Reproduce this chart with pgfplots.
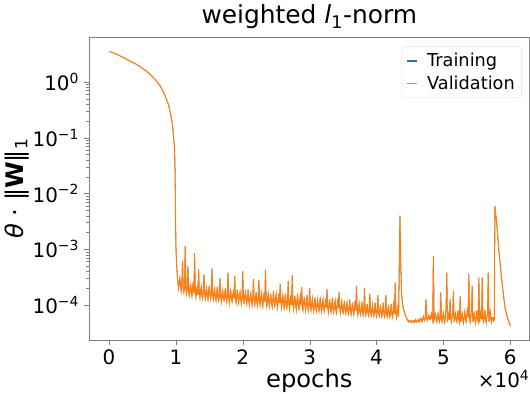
\documentclass[border=0pt]{standalone}
\usepackage{fontspec}
\setmainfont{DejaVu Sans}
\usepackage{pgfplots}
\usepackage{pgfplotstable}
\pgfplotsset{compat=1.18}
\definecolor{mplblue}{HTML}{1F77B4}
\definecolor{mplorange}{HTML}{FF7F0E}
\pgfplotstableread{
x y
0 3.53
1000 3.2
2000 2.8
2860 2.46
4000 2.1
5000 1.75
5880 1.47
6800 1.15
7650 0.85
8300 0.6
8900 0.39
9200 0.27
9500 0.171
9700 0.09
9800 0.065
9880 0.025
9910 0.013
9950 0.004
10000 1.25e-3
10050 8e-4
10100 6e-4
10150 4.5e-4
10200 3.6e-4
10300 2.6e-4
10400 2.0e-4
10500 2.5e-4
10600 3.0e-4
10700 2.2e-4
10800 1.8e-4
10900 2.6e-4
11000 6.2e-4
11100 2.0e-4
11200 1.7e-4
11300 2.1e-4
11400 11.5e-4
11500 2.0e-4
11600 1.6e-4
11700 2.0e-4
11800 5.0e-4
11900 1.8e-4
12000 1.5e-4
12100 1.9e-4
12200 2.4e-4
12300 1.7e-4
12400 1.45e-4
12500 2.0e-4
12600 2.6e-4
12700 1.6e-4
12800 8.5e-4
12900 1.9e-4
13000 1.4e-4
13100 1.75e-4
13200 2.2e-4
13300 1.5e-4
13400 4.4e-4
13500 1.7e-4
13600 1.35e-4
13700 1.8e-4
13800 2.1e-4
13900 1.5e-4
14000 1.3e-4
14100 1.8e-4
14200 3.5e-4
14300 1.55e-4
14400 1.3e-4
14500 1.7e-4
14600 2.0e-4
14700 1.45e-4
14800 1.25e-4
14900 1.75e-4
15000 2.2e-4
15100 1.5e-4
15200 1.3e-4
15300 1.7e-4
15400 4.5e-4
15500 1.5e-4
15600 1.25e-4
15700 1.65e-4
15800 1.9e-4
15900 1.4e-4
16000 1.2e-4
16100 1.6e-4
16200 2.1e-4
16300 1.35e-4
16400 1.2e-4
16500 1.55e-4
16600 3.0e-4
16700 1.4e-4
16800 1.15e-4
16900 1.5e-4
17000 1.8e-4
17100 1.3e-4
17200 1.2e-4
17300 1.55e-4
17400 2.0e-4
17500 1.35e-4
17600 1.15e-4
17700 1.5e-4
17800 3.8e-4
17900 1.35e-4
18000 1.1e-4
18100 1.5e-4
18200 1.8e-4
18300 1.3e-4
18400 1.15e-4
18500 1.5e-4
18600 1.7e-4
18700 1.3e-4
18800 3.3e-4
18900 1.4e-4
19000 1.1e-4
19100 1.45e-4
19200 1.9e-4
19300 1.3e-4
19400 1.1e-4
19500 1.45e-4
19600 1.7e-4
19700 1.25e-4
19800 1.05e-4
19900 1.4e-4
20000 4.0e-4
20100 1.3e-4
20200 1.1e-4
20300 1.45e-4
20400 1.7e-4
20500 1.25e-4
20600 1.05e-4
20700 1.4e-4
20800 1.9e-4
20900 1.2e-4
21000 1.0e-4
21100 1.35e-4
21200 1.6e-4
21300 1.2e-4
21400 1.0e-4
21500 1.35e-4
21600 2.9e-4
21700 1.2e-4
21800 1.0e-4
21900 1.3e-4
22000 1.7e-4
22100 1.15e-4
22200 0.98e-4
22300 1.3e-4
22400 2.8e-4
22500 1.2e-4
22600 1.0e-4
22700 1.35e-4
22800 1.6e-4
22900 1.15e-4
23000 0.95e-4
23100 1.3e-4
23200 1.7e-4
23300 1.15e-4
23400 4.3e-4
23500 1.2e-4
23600 0.95e-4
23700 1.3e-4
23800 1.6e-4
23900 1.1e-4
24000 0.95e-4
24100 1.3e-4
24200 1.5e-4
24300 1.1e-4
24400 0.92e-4
24500 1.25e-4
24600 1.8e-4
24700 1.1e-4
24800 0.95e-4
24900 1.25e-4
25000 1.55e-4
25100 1.1e-4
25200 0.9e-4
25300 1.25e-4
25400 1.6e-4
25500 1.1e-4
25600 2.4e-4
25700 1.15e-4
25800 0.9e-4
25900 1.2e-4
26000 1.5e-4
26100 1.05e-4
26200 0.88e-4
26300 1.2e-4
26400 1.6e-4
26500 1.0e-4
26600 0.88e-4
26700 1.2e-4
26800 2.7e-4
26900 1.05e-4
27000 0.85e-4
27100 1.15e-4
27200 1.5e-4
27300 1.0e-4
27400 3.4e-4
27500 1.05e-4
27600 0.85e-4
27700 1.15e-4
27800 1.45e-4
27900 1.0e-4
28000 0.82e-4
28100 1.15e-4
28200 1.6e-4
28300 1.0e-4
28400 0.85e-4
28500 1.12e-4
28600 1.4e-4
28700 1.0e-4
28800 2.1e-4
28900 1.0e-4
29000 0.82e-4
29100 1.1e-4
29200 1.4e-4
29300 0.98e-4
29400 0.8e-4
29500 1.1e-4
29600 1.5e-4
29700 0.95e-4
29800 0.8e-4
29900 1.05e-4
30000 2.0e-4
30100 0.95e-4
30200 0.8e-4
30300 1.05e-4
30400 1.3e-4
30500 0.92e-4
30600 0.78e-4
30700 1.02e-4
30800 1.35e-4
30900 0.9e-4
31000 0.78e-4
31100 1.0e-4
31200 1.25e-4
31300 0.9e-4
31400 0.78e-4
31500 1.02e-4
31600 1.4e-4
31700 0.9e-4
31800 0.76e-4
31900 1.0e-4
32000 1.25e-4
32100 0.88e-4
32200 0.78e-4
32300 1.0e-4
32400 1.3e-4
32500 0.9e-4
32600 1.9e-4
32700 0.92e-4
32800 0.75e-4
32900 0.98e-4
33000 1.25e-4
33100 0.86e-4
33200 0.75e-4
33300 0.98e-4
33400 1.35e-4
33500 0.86e-4
33600 0.74e-4
33700 0.96e-4
33800 1.2e-4
33900 0.85e-4
34000 0.73e-4
34100 0.95e-4
34200 1.3e-4
34300 0.88e-4
34400 1.7e-4
34500 0.9e-4
34600 0.72e-4
34700 0.92e-4
34800 1.15e-4
34900 0.82e-4
35000 0.72e-4
35100 0.9e-4
35200 1.2e-4
35300 0.8e-4
35400 0.7e-4
35500 0.9e-4
35600 1.1e-4
35700 0.8e-4
35800 0.7e-4
35900 0.88e-4
36000 1.25e-4
36100 0.8e-4
36200 0.68e-4
36300 0.86e-4
36400 1.1e-4
36500 0.78e-4
36600 0.68e-4
36700 0.86e-4
36800 1.2e-4
36900 0.8e-4
37000 2.2e-4
37100 0.8e-4
37200 0.67e-4
37300 0.85e-4
37400 1.05e-4
37500 0.76e-4
37600 0.67e-4
37700 0.84e-4
37800 1.15e-4
37900 0.76e-4
38000 0.66e-4
38100 0.84e-4
38200 2.0e-4
38300 0.78e-4
38400 0.66e-4
38500 0.82e-4
38600 1.05e-4
38700 0.74e-4
38800 0.65e-4
38900 0.82e-4
39000 1.6e-4
39100 0.76e-4
39200 0.65e-4
39300 0.8e-4
39400 1.0e-4
39500 0.72e-4
39600 0.64e-4
39700 0.8e-4
39800 1.1e-4
39900 0.72e-4
40000 0.63e-4
40100 0.78e-4
40200 1.5e-4
40300 0.72e-4
40400 0.63e-4
40500 0.78e-4
40600 1.0e-4
40700 0.7e-4
40800 0.62e-4
40900 0.78e-4
41000 1.1e-4
41100 0.7e-4
41200 0.62e-4
41300 0.76e-4
41400 1.5e-4
41500 0.7e-4
41600 0.61e-4
41700 0.76e-4
41800 1.0e-4
41900 0.68e-4
42000 0.61e-4
42100 0.76e-4
42200 1.05e-4
42300 0.68e-4
42400 0.6e-4
42500 0.75e-4
42600 1.2e-4
42700 0.7e-4
42800 2.5e-4
42900 0.72e-4
43000 0.6e-4
43100 0.76e-4
43200 1.0e-4
43300 0.62e-4
43500 40e-4
43600 6.3e-4
43750 1.55e-4
43900 1.0e-4
44100 0.79e-4
44300 0.65e-4
44600 0.55e-4
44800 0.5e-4
44900 0.53e-4
45000 0.52e-4
45100 0.5e-4
45200 0.49e-4
45300 0.52e-4
45400 0.53e-4
45500 0.5e-4
45600 0.48e-4
45700 0.52e-4
45800 0.54e-4
45900 0.5e-4
46000 0.49e-4
46100 0.53e-4
46200 0.55e-4
46300 0.51e-4
46400 0.5e-4
46500 0.55e-4
46600 0.58e-4
46700 0.52e-4
46800 0.5e-4
46900 0.57e-4
47000 0.62e-4
47100 0.55e-4
47200 0.52e-4
47300 0.6e-4
47400 1.26e-4
47500 0.58e-4
47600 0.53e-4
47700 0.6e-4
47800 0.65e-4
47900 0.56e-4
48000 0.55e-4
48100 0.62e-4
48200 0.7e-4
48300 0.58e-4
48400 0.52e-4
48500 7.6e-4
48600 0.55e-4
48700 0.62e-4
48800 0.68e-4
48900 0.55e-4
49000 0.5e-4
49100 0.62e-4
49200 0.7e-4
49300 0.55e-4
49400 0.5e-4
49500 0.62e-4
49600 1.66e-4
49700 0.55e-4
49800 0.5e-4
49900 0.64e-4
50000 0.72e-4
50100 0.55e-4
50200 0.49e-4
50300 0.62e-4
50400 0.9e-4
50500 3.8e-4
50600 0.5e-4
50700 0.62e-4
50800 0.7e-4
50900 0.55e-4
51000 1.26e-4
51100 0.56e-4
51200 0.5e-4
51300 0.62e-4
51400 0.75e-4
51500 1.8e-4
51600 0.49e-4
51700 0.62e-4
51800 0.7e-4
51900 0.55e-4
52000 0.5e-4
52100 0.62e-4
52200 0.8e-4
52300 0.55e-4
52400 0.49e-4
52500 1.45e-4
52600 0.5e-4
52700 0.62e-4
52800 0.7e-4
52900 0.54e-4
53000 0.48e-4
53100 0.62e-4
53200 0.75e-4
53300 0.55e-4
53400 0.5e-4
53500 0.64e-4
53600 0.9e-4
53700 0.6e-4
53800 3.6e-4
53900 0.56e-4
54000 0.49e-4
54100 0.62e-4
54200 0.8e-4
54300 2.2e-4
54400 0.5e-4
54500 0.62e-4
54600 0.7e-4
54700 0.55e-4
54800 0.48e-4
54900 0.62e-4
55000 0.8e-4
55100 0.56e-4
55200 0.5e-4
55300 3.1e-4
55400 0.49e-4
55500 0.62e-4
55600 0.75e-4
55700 0.56e-4
55800 3.1e-4
55900 0.56e-4
56000 0.5e-4
56100 0.62e-4
56200 0.8e-4
56300 0.55e-4
56400 0.48e-4
56500 0.62e-4
56600 0.7e-4
56700 3.8e-4
56800 0.5e-4
56900 0.62e-4
57000 0.75e-4
57100 0.55e-4
57200 0.49e-4
57300 0.6e-4
57400 0.6e-4
57500 0.52e-4
57600 0.55e-4
57700 59e-4
58000 26e-4
58300 9e-4
58800 2.3e-4
59200 0.89e-4
59600 0.58e-4
60000 0.42e-4
}\datatable
\newcommand{\tsup}[1]{\textsuperscript{#1}}
\begin{document}
\begin{tikzpicture}
\begin{axis}[
  scale only axis,
  width=327.75pt, height=225pt,
  ymode=log,
  xmin=-3000, xmax=62900,
  ymin=2.36e-5, ymax=6.3,
  xtick={0,10000,20000,30000,40000,50000,60000},
  xticklabels={0,1,2,3,4,5,6},
  ytick={1e-4,1e-3,1e-2,1e-1,1},
  yticklabels={10\tsup{−4},10\tsup{−3},10\tsup{−2},10\tsup{−1},10\tsup{0}},
  scaled x ticks=false,
  tick align=outside,
  xtick pos=bottom, ytick pos=left,
  major tick length=3.7pt,
  minor tick length=2.2pt,
  axis line style={gray},
  tick style={gray},
  every tick label/.append style={font=\fontsize{14.8}{17}\selectfont, text=black},
  xticklabel style={inner sep=0pt, yshift=-3.5pt},
  title={weighted \textit{l}\textsubscript{1}-norm},
  title style={font=\fontsize{18.5}{21}\selectfont, yshift=-3pt},
  xlabel={epochs},
  ylabel={\textit{θ} · ‖\textbf{W}‖\textsubscript{1}},
  label style={font=\fontsize{18}{21}\selectfont},
  xlabel style={inner sep=1pt, yshift=-1.5pt},
  ylabel style={yshift=-4pt},
  legend style={at={(0.982,0.97)}, anchor=north east, draw=gray!25, rounded corners=2pt,
    fill=white, font=\fontsize{13.2}{16}\selectfont, row sep=1pt, inner sep=3pt},
  legend cell align=left,
  legend image post style={xscale=0.45, line width=1.1pt},
  clip mode=individual,
]
\addplot[mplblue, line width=0.4pt] table[x=x, y=y] {\datatable};
\addlegendentry{\hspace{5pt}Training}
\addplot[mplorange, line width=0.8pt] table[x=x, y=y] {\datatable};
\addlegendentry{\hspace{5pt}Validation}
\node[anchor=north east, font=\fontsize{14.8}{17}\selectfont, inner sep=0pt] at (rel axis cs:1,0) [yshift=-22.5pt] {×10\tsup{4}};
\end{axis}
\end{tikzpicture}
\end{document}
